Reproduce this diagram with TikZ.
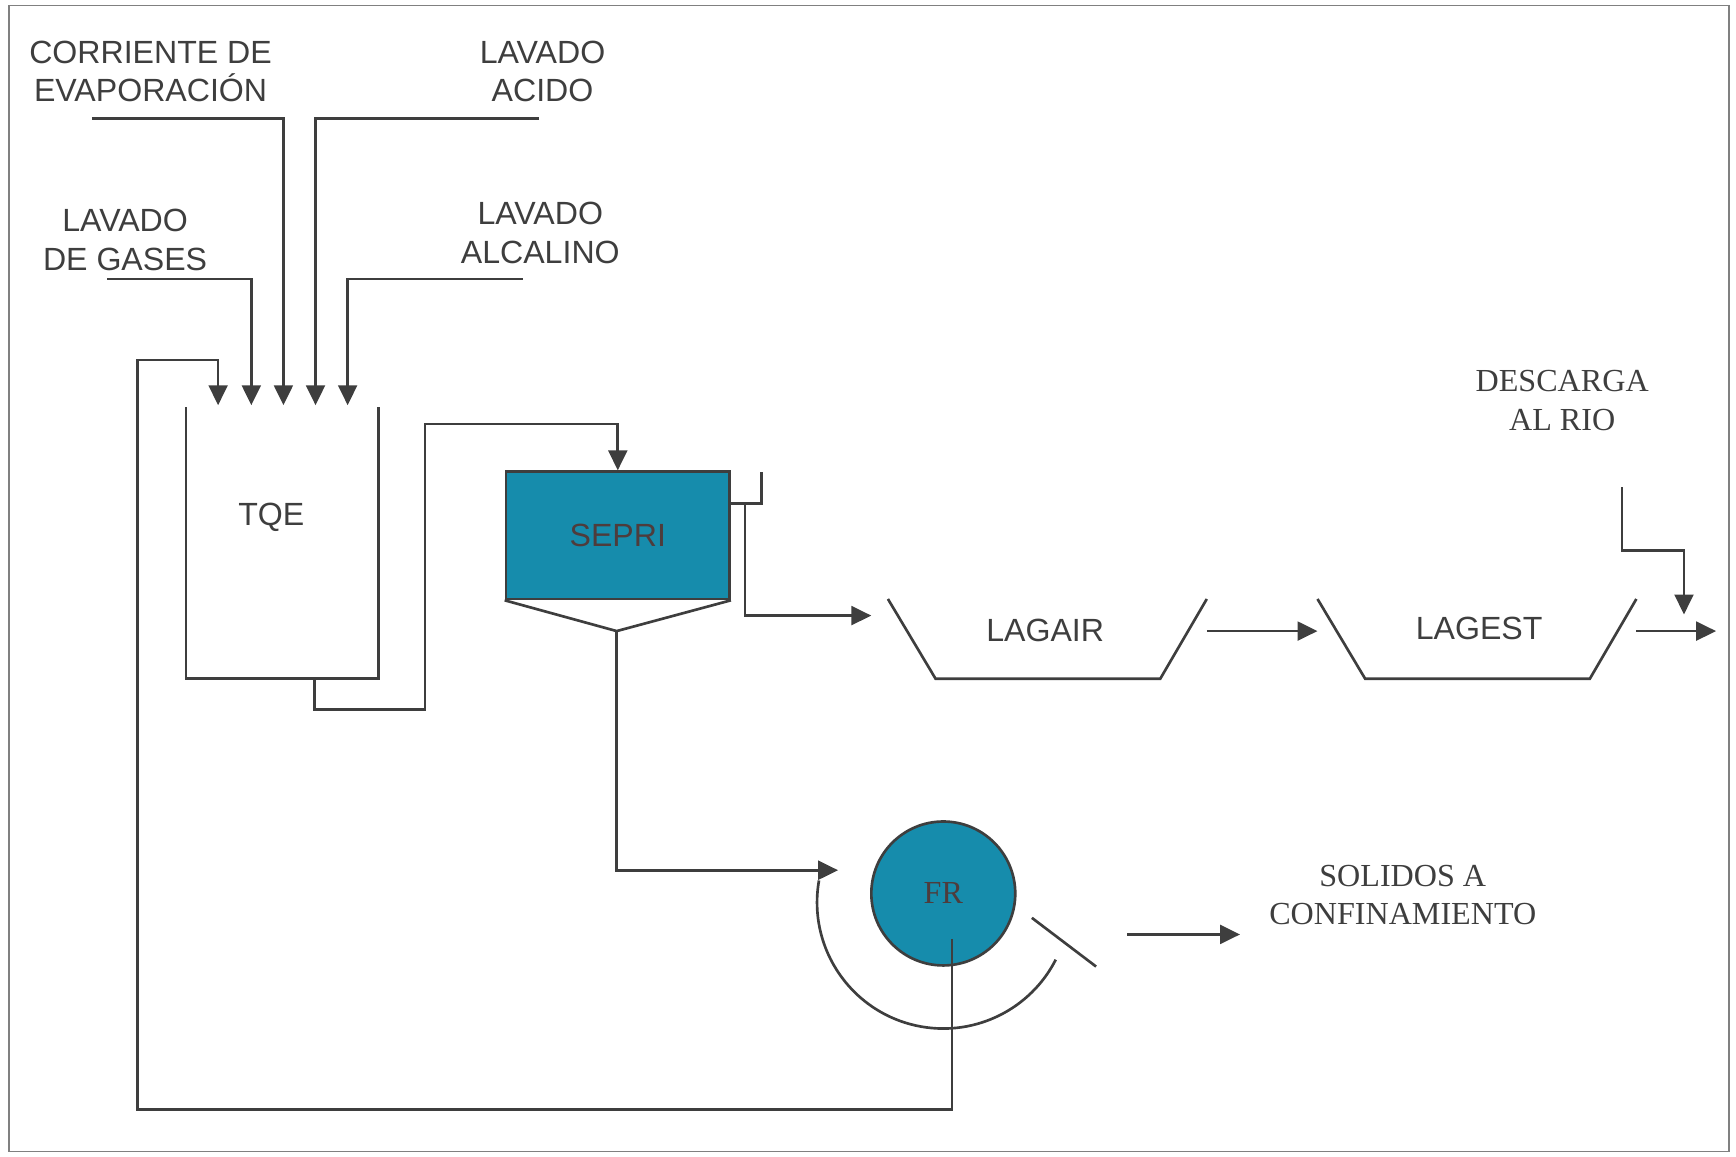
\documentclass[tikz,border=0pt]{standalone}
\usepackage{fontspec}
\setmainfont{Liberation Sans}
\newfontfamily\serifx{Liberation Serif}
\usetikzlibrary{arrows.meta,calc}
\definecolor{ink}{RGB}{62,62,62}
\definecolor{tealf}{RGB}{22,140,172}
\definecolor{darktxt}{RGB}{78,60,60}
\begin{document}
\begin{tikzpicture}[x=0.5pt,y=-0.5pt,
  pipe/.style={draw=ink,line width=1.2pt},
  flow/.style={pipe,-{Triangle[length=9pt,width=8.5pt]}},
  lbl/.style={text=ink,font=\fontsize{14.5}{17.5}\selectfont,align=center,inner sep=0pt},
  slbl/.style={text=ink,font=\serifx\fontsize{14.5}{17.5}\selectfont,align=center,inner sep=0pt},
  unit/.style={draw=ink,line width=1.2pt,fill=tealf,text=darktxt,inner sep=0pt}]
\useasboundingbox (0,0) rectangle (1568,1045);
\draw[draw=gray,line width=0.8pt] (8,5) rectangle (1562,1040);

% labels of feeds
\node[lbl] (corr) at (136,64.5) {CORRIENTE DE\\EVAPORACIÓN};
\node[lbl] (acido) at (490,64.5) {LAVADO\\ACIDO};
\node[lbl] (gases) at (113,216.5) {LAVADO\\DE GASES};
\node[lbl] (alcal) at (488,210.5) {LAVADO\\ALCALINO};

% TQE tank (open top)
\coordinate (tqeTL) at (168,368);
\coordinate (tqeBL) at (168,613);
\coordinate (tqeBR) at (342,613);
\coordinate (tqeTR) at (342,368);
\draw[pipe] (tqeTL) -- (tqeBL) -- (tqeBR) -- (tqeTR);
\node[lbl] (tqe) at (245,467) {TQE};

% feed inlets
\coordinate (inR) at (197,366);
\coordinate (inG) at (227,366);
\coordinate (inC) at (256,366);
\coordinate (inA) at (285,366);
\coordinate (inL) at (314,366);
\coordinate (cS) at (83,107);
\coordinate (aS) at (487,107);
\coordinate (gS) at (97,252);
\coordinate (lS) at (472,252);
\draw[flow] (cS) -- (inC |- cS) -- (inC);
\draw[flow] (aS) -- (inA |- aS) -- (inA);
\draw[flow] (gS) -- (inG |- gS) -- (inG);
\draw[flow] (lS) -- (inL |- lS) -- (inL);

% SEPRI
\node[unit,minimum width=101pt,minimum height=57.5pt,font=\fontsize{14.5}{17.5}\selectfont] (sepri) at (558,483.5) {SEPRI};
\coordinate (cone) at (557,570);
\draw[pipe] (sepri.south west) -- (cone) -- (sepri.south east);

% TQE outlet to SEPRI
\coordinate (tqeOut) at (284,613);
\draw[flow] (tqeOut) -- (284,641) -- (384,641) -- (384,383) -- (sepri.north |- 0,383) -- (sepri.north);

% overflow of SEPRI
\coordinate (ovf) at (659,455);
\draw[pipe] (ovf) -- (688,455) -- (688,426);

% lagoons
\coordinate (la1) at (802,541);
\coordinate (la2) at (845,613);
\coordinate (la3) at (1048,613);
\coordinate (la4) at (1090,541);
\draw[pipe] (la1) -- (la2) -- (la3) -- (la4);
\node[lbl] (lagair) at (944,569) {LAGAIR};
\coordinate (lb1) at (1190,541);
\coordinate (lb2) at (1233,613);
\coordinate (lb3) at (1436,613);
\coordinate (lb4) at (1478,541);
\draw[pipe] (lb1) -- (lb2) -- (lb3) -- (lb4);
\node[lbl] (lagest) at (1336,568) {LAGEST};

\coordinate (lagairIn) at (787,556);
\draw[flow] (673,455) -- (673,556) -- (lagairIn);
\coordinate (laOut) at (1090,570);
\coordinate (lbIn) at (1190,570);
\draw[flow] (laOut) -- (lbIn);
\coordinate (lbOut) at (1478,570);
\coordinate (outEnd) at (1550,570);
\draw[flow] (lbOut) -- (outEnd);

% discharge
\node[slbl] (desc) at (1411,362) {DESCARGA\\AL RIO};
\coordinate (dS) at (1465,440);
\coordinate (dE) at (1521,555);
\draw[flow] (dS) -- (1465,497) -- (dE |- 0,497) -- (dE);

% FR filter
\node[unit,circle,minimum size=65pt,font=\serifx\fontsize{14.5}{17.5}\selectfont] (fr) at (852,807) {FR};
\coordinate (frIn) at (757,786);
\draw[flow] (cone) -- (cone |- frIn) -- (frIn);
\coordinate (arcc) at (852,815);
\draw[pipe] ($(arcc)+(170:57pt)$) arc[start angle=170,end angle=333,radius=57pt];
\coordinate (scr1) at (932,829);
\coordinate (scr2) at (990,873);
\draw[pipe] (scr1) -- (scr2);
\coordinate (solS) at (1018,844);
\coordinate (solE) at (1120,844);
\draw[flow] (solS) -- (solE);
\node[slbl] (sol) at (1267,808.5) {SOLIDOS A\\CONFINAMIENTO};

% recycle
\coordinate (frOut) at (860,848);
\draw[flow] (frOut) -- (860,1002) -- (124,1002) -- (124,325) -- (inR |- 0,325) -- (inR);
\end{tikzpicture}
\end{document}
